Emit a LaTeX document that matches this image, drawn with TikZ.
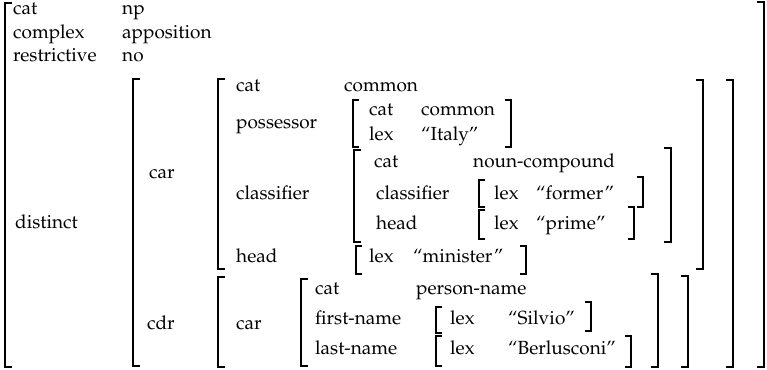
\documentclass[tikz,border=0pt]{standalone}
\usepackage[T1]{fontenc}
\usepackage{mathpazo}

\begin{document}
\begin{tikzpicture}[x=1pt,y=-1pt,
    brk/.style={line width=1.6pt},
    sbrk/.style={line width=1.1pt},
    every node/.style={anchor=base west,inner sep=0pt,font=\fontsize{19}{22}\selectfont}]
  \useasboundingbox (0,0) rectangle (767,369);

  % outer structure
  \draw[brk] (12,3) -| (5,367) -- (12,367);
  \draw[brk] (757,2) -| (764,367) -- (757,367);
  \node (cat) at (13,15) {cat};
  \node (np) at (122,15) {np};
  \node (complex) at (13,38.5) {complex};
  \node (appos) at (122,38.5) {apposition};
  \node (restr) at (13,62) {restrictive};
  \node (no) at (122,62) {no};
  \node (distinct) at (15,228) {distinct};

  % value of distinct
  \draw[brk] (140,79) -| (133,366) -- (140,366);
  \draw[brk] (726,80) -| (733,367) -- (726,367);
  \node (car) at (149,178) {car};
  \node (cdr) at (147,329) {cdr};

  % car
  \draw[brk] (225,79) -| (218,269) -- (225,269);
  \draw[brk] (696,80) -| (703,269) -- (696,269);
  \node (carcat) at (236,91) {cat};
  \node (carcatv) at (344,91) {common};
  \node (poss) at (236,128) {possessor};
  \node (cls) at (236,199) {classifier};
  \node (head) at (236,262) {head};

  % possessor
  \draw[sbrk] (359,100) -| (353,147) -- (359,147);
  \draw[sbrk] (505,100) -| (511,147) -- (505,147);
  \node (posscat) at (369,115) {cat};
  \node (posscatv) at (421,115) {common};
  \node (posslex) at (369,140) {lex};
  \node (posslexv) at (421,140) {``Italy''};

  % classifier
  \draw[brk] (361,150) -| (354,242) -- (361,242);
  \draw[brk] (664,148) -| (671,242) -- (664,242);
  \node (clscat) at (374,167) {cat};
  \node (clscatv) at (473,167) {noun-compound};
  \node (clscls) at (376,199) {classifier};
  \node (clshead) at (376,229) {head};
  \draw[sbrk] (485,180) -| (479,207) -- (485,207);
  \draw[sbrk] (637,177) -| (643,207) -- (637,207);
  \node (formerlex) at (494,199) {lex};
  \node (former) at (536,199) {``former''};
  \draw[sbrk] (485,210) -| (479,239) -- (485,239);
  \draw[sbrk] (628,207) -| (634,239) -- (628,239);
  \node (primelex) at (494,229) {lex};
  \node (prime) at (536,229) {``prime''};

  % head
  \draw[sbrk] (362,246) -| (356,274) -- (362,274);
  \draw[sbrk] (520,246) -| (526,274) -- (520,274);
  \node (headlex) at (369,262) {lex};
  \node (headv) at (413,262) {``minister''};

  % cdr
  \draw[brk] (225,277) -| (218,367) -- (225,367);
  \draw[brk] (681,276) -| (688,367) -- (681,367);
  \node (cdrcar) at (236,329) {car};
  \draw[brk] (308,279) -| (301,366) -- (308,366);
  \draw[brk] (651,274) -| (658,367) -- (651,367);
  \node (pcat) at (315,294) {cat};
  \node (pcatv) at (416,294) {person-name};
  \node (first) at (315,324) {first-name};
  \node (last) at (315,354) {last-name};
  \draw[sbrk] (442,307) -| (436,333) -- (442,333);
  \draw[sbrk] (585,302) -| (591,331) -- (585,331);
  \node (firstlex) at (450,324) {lex};
  \node (firstv) at (508,324) {``Silvio''};
  \draw[sbrk] (442,336) -| (436,366) -- (442,366);
  \draw[sbrk] (625,336) -| (631,367) -- (625,367);
  \node (lastlex) at (450,354) {lex};
  \node (lastv) at (508,354) {``Berlusconi''};
\end{tikzpicture}
\end{document}
